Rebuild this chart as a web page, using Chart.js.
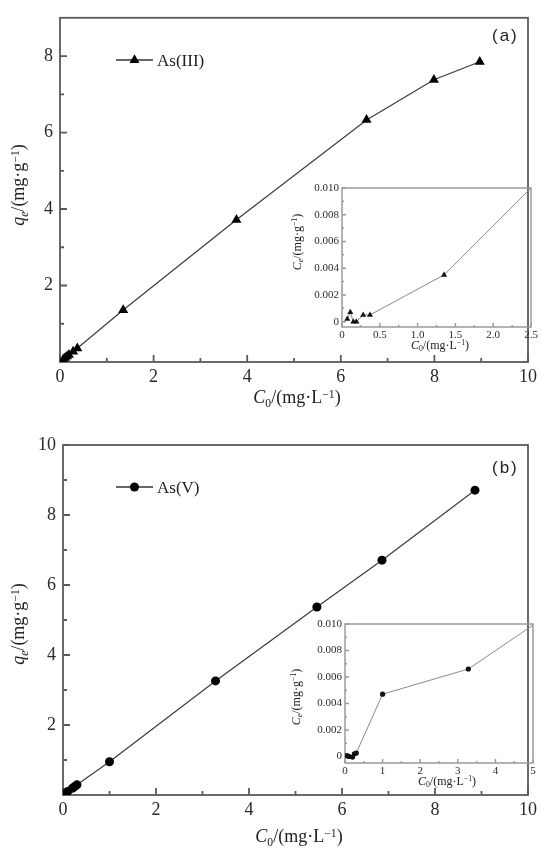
<!DOCTYPE html>
<html><head><meta charset="utf-8">
<script src="https://cdn.jsdelivr.net/npm/chart.js@4/dist/chart.umd.min.js"></script>
<style>
body{margin:0;background:#fff;}
#wrap{position:relative;width:541px;height:850px;overflow:hidden;background:#fff;}
canvas{position:absolute;}
.t{position:absolute;font-family:"Liberation Serif",serif;color:#222;white-space:nowrap;line-height:1;transform:translate(-50%,-50%);}
.r{transform:translate(-50%,-50%) rotate(-90deg);}
.l{transform:translate(0,-50%);}
.t sub{font-size:65%;vertical-align:-0.3em;}
.t sup{font-size:65%;vertical-align:0.5em;}
.lab{font-family:"Liberation Sans",sans-serif;letter-spacing:2px;color:#222;}
</style></head>
<body><div id="wrap">
<canvas id="mA" width="541" height="400" style="left:0;top:0"></canvas>
<canvas id="iA" width="255" height="180" style="left:288px;top:176px"></canvas>
<canvas id="mB" width="541" height="425" style="left:0;top:425px"></canvas>
<canvas id="iB" width="255" height="180" style="left:290px;top:612px"></canvas>

<div class="t lab l" style="left:492px;top:35px;font-size:17px">(a)</div>
<div class="t l" style="left:157px;top:60px;font-size:17px">As(III)</div>
<div class="t" style="left:297px;top:399px;font-size:18px"><i>C</i><sub>0</sub>/(mg·L<sup>−1</sup>)</div>
<div class="t r" style="left:20px;top:185px;font-size:18px"><i>q</i><sub><i>e</i></sub>/(mg·g<sup>−1</sup>)</div>
<div class="t" style="left:440px;top:346px;font-size:12px"><i>C</i><sub>0</sub>/(mg·L<sup>−1</sup>)</div>
<div class="t r" style="left:298px;top:242px;font-size:12px"><i>C</i><sub><i>e</i></sub>/(mg·g<sup>−1</sup>)</div>

<div class="t lab l" style="left:492px;top:467px;font-size:17px">(b)</div>
<div class="t l" style="left:157px;top:487px;font-size:17px">As(V)</div>
<div class="t" style="left:299px;top:838px;font-size:18px"><i>C</i><sub>0</sub>/(mg·L<sup>−1</sup>)</div>
<div class="t r" style="left:20px;top:624px;font-size:18px"><i>q</i><sub><i>e</i></sub>/(mg·g<sup>−1</sup>)</div>
<div class="t" style="left:447px;top:782px;font-size:12px"><i>C</i><sub>0</sub>/(mg·L<sup>−1</sup>)</div>
<div class="t r" style="left:297px;top:697px;font-size:12px"><i>C</i><sub><i>e</i></sub>/(mg·g<sup>−1</sup>)</div>
</div>
<script>
// ---------- data ----------
const c0A   = [0.07, 0.11, 0.15, 0.19, 0.28, 0.37, 1.35, 3.77, 6.55, 7.99, 8.97];
const qeA   = [0.07, 0.11, 0.15, 0.19, 0.27, 0.36, 1.36, 3.72, 6.33, 7.38, 7.85];
const ceA   = [0.0002, 0.0007, 0.0000, 0.0000, 0.0005, 0.0005, 0.0035, 0.0172];
const c0B   = [0.05, 0.10, 0.20, 0.25, 0.30, 1.00, 3.28, 5.46, 6.86, 8.86];
const qeB   = [0.05, 0.10, 0.19, 0.24, 0.29, 0.95, 3.26, 5.37, 6.71, 8.71];
const ceB   = [0.00005, 0.0000, -0.00005, 0.0002, 0.00025, 0.0047, 0.0066, 0.0108];

const xTicksMain = [0, 2, 4, 6, 8, 10];
const xMinorMain = [1, 3, 5, 7, 9];
const yTicksA = [2, 4, 6, 8];
const yMinorA = [1, 3, 5, 7];
const yTicksB = [2, 4, 6, 8, 10];
const yMinorB = [1, 3, 5, 7, 9];
const xTicksInA = [0, 0.5, 1.0, 1.5, 2.0, 2.5];
const xMinorInA = [0.25, 0.75, 1.25, 1.75, 2.25];
const xTicksInB = [0, 1, 2, 3, 4, 5];
const xMinorInB = [0.5, 1.5, 2.5, 3.5, 4.5];
const yTicksIn = [0, 0.002, 0.004, 0.006, 0.008, 0.010];
const yMinorIn = [0.001, 0.003, 0.005, 0.007, 0.009];

// ---------- helpers ----------
Chart.defaults.font.family = '"Liberation Serif", serif';
Chart.defaults.color = '#2a2a2a';

function pts(xs, ys){ const n=Math.min(xs.length, ys.length); const o=[]; for(let i=0;i<n;i++) o.push({x:xs[i], y:ys[i]}); return o; }

function framePlugin(o){
  return {
    id:'frame',
    beforeDatasetsDraw(chart){
      const {ctx, chartArea:a} = chart; const xs=chart.scales.x, ys=chart.scales.y;
      ctx.save();
      ctx.strokeStyle=o.color; ctx.lineWidth=o.width;
      ctx.beginPath();
      o.xMaj.forEach(v=>{const p=xs.getPixelForValue(v); ctx.moveTo(p,a.bottom); ctx.lineTo(p,a.bottom-o.major);});
      o.xMin.forEach(v=>{const p=xs.getPixelForValue(v); ctx.moveTo(p,a.bottom); ctx.lineTo(p,a.bottom-o.minor);});
      o.yMaj.forEach(v=>{const p=ys.getPixelForValue(v); ctx.moveTo(a.left,p); ctx.lineTo(a.left+o.major,p);});
      o.yMin.forEach(v=>{const p=ys.getPixelForValue(v); ctx.moveTo(a.left,p); ctx.lineTo(a.left+o.minor,p);});
      ctx.stroke();
      ctx.strokeRect(a.left,a.top,a.right-a.left,a.bottom-a.top);
      if(o.legend){
        const L=o.legend;
        ctx.strokeStyle='#333'; ctx.lineWidth=1.3;
        ctx.beginPath(); ctx.moveTo(L.x1,L.y); ctx.lineTo(L.x2,L.y); ctx.stroke();
        ctx.fillStyle='#000';
        ctx.beginPath();
        if(L.style==='triangle'){
          const r=L.r; for(let k=0;k<3;k++){const ang=k*2*Math.PI/3; const px=L.mx+Math.sin(ang)*r, py=L.y-Math.cos(ang)*r; k?ctx.lineTo(px,py):ctx.moveTo(px,py);} ctx.closePath();
        } else { ctx.arc(L.mx,L.y,L.r,0,Math.PI*2); }
        ctx.fill();
      }
      ctx.restore();
    }
  };
}

function scaleCfg(min,max,ticks,fit,isX,size,pad,cb){
  return {
    type:'linear', min:min, max:max,
    afterBuildTicks:s=>{ s.ticks = ticks.map(v=>({value:v})); },
    afterFit:s=>{ if(isX) s.height=fit; else s.width=fit; },
    grid:{display:false, drawTicks:false}, border:{display:false},
    ticks:{font:{size:size}, padding:pad, maxRotation:0, autoSkip:false, color:'#2a2a2a', callback: cb || (v=>String(v))}
  };
}

function makeChart(id, ds, sc, pad, frame){
  return new Chart(document.getElementById(id), {
    type:'scatter',
    data:{datasets:[ds]},
    options:{
      responsive:false, animation:false, devicePixelRatio:1, events:[],
      layout:{padding:pad},
      plugins:{legend:{display:false}, tooltip:{enabled:false}},
      scales:sc
    },
    plugins:[framePlugin(frame)]
  });
}

const inYcb = v => v===0 ? '0' : Number(v).toFixed(3);

// ---------- (a) main ----------
makeChart('mA', {
  data:pts(c0A,qeA), showLine:true, tension:0, borderColor:'#3c3c3c', borderWidth:1.2,
  pointStyle:'triangle', pointRadius:5.8, pointBackgroundColor:'#000', pointBorderColor:'#000', pointBorderWidth:0
},{
  x:scaleCfg(0,10,xTicksMain,38,true,18,4),
  y:scaleCfg(0,9,yTicksA,60,false,18,7)
},{left:0,top:11,right:10,bottom:0},
{color:'#5a5a5a',width:1.8,major:7,minor:4,xMaj:xTicksMain,xMin:xMinorMain,yMaj:yTicksA,yMin:yMinorA,
 legend:{x1:116,x2:153,mx:134.5,y:60,r:5.8,style:'triangle'}});

// ---------- (a) inset ----------
makeChart('iA', {
  data:pts(c0A,ceA), showLine:true, tension:0, borderColor:'#8a8a8a', borderWidth:1,
  pointStyle:'triangle', pointRadius:3.5, pointBackgroundColor:'#111', pointBorderColor:'#111', pointBorderWidth:0
},{
  x:scaleCfg(0,2.5,xTicksInA,29,true,11,2,v=>v===0?'0':Number(v).toFixed(1)),
  y:scaleCfg(-0.0004,0.010,yTicksIn,54,false,11,3,inYcb)
},{left:0,top:12,right:12,bottom:0},
{color:'#9a9a9a',width:1.5,major:4,minor:2,xMaj:xTicksInA,xMin:xMinorInA,yMaj:yTicksIn,yMin:yMinorIn});

// ---------- (b) main ----------
makeChart('mB', {
  data:pts(c0B,qeB), showLine:true, tension:0, borderColor:'#3c3c3c', borderWidth:1.2,
  pointStyle:'circle', pointRadius:4.5, pointBackgroundColor:'#000', pointBorderColor:'#000', pointBorderWidth:0
},{
  x:scaleCfg(0,10,xTicksMain,55,true,18,4),
  y:scaleCfg(0,10,yTicksB,63,false,18,7)
},{left:0,top:20,right:8,bottom:0},
{color:'#5a5a5a',width:1.8,major:7,minor:4,xMaj:xTicksMain,xMin:xMinorMain,yMaj:yTicksB,yMin:yMinorB,
 legend:{x1:116,x2:153,mx:134.5,y:487-425,r:4.5,style:'circle'}});

// ---------- (b) inset ----------
makeChart('iB', {
  data:pts(c0B,ceB), showLine:true, tension:0, borderColor:'#8a8a8a', borderWidth:1,
  pointStyle:'circle', pointRadius:2.6, pointBackgroundColor:'#111', pointBorderColor:'#111', pointBorderWidth:0
},{
  x:scaleCfg(0,5,xTicksInB,29,true,11,2),
  y:scaleCfg(-0.0005,0.010,yTicksIn,55,false,11,3,inYcb)
},{left:0,top:12,right:12,bottom:0},
{color:'#9a9a9a',width:1.5,major:4,minor:2,xMaj:xTicksInB,xMin:xMinorInB,yMaj:yTicksIn,yMin:yMinorIn});
</script>
</body></html>
